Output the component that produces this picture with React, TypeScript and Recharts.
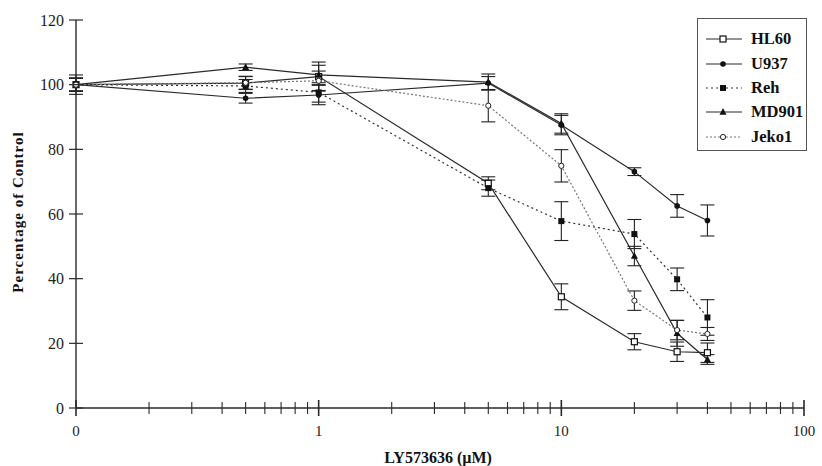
import {
  LineChart,
  Line,
  XAxis,
  YAxis,
  ErrorBar,
  Legend
} from 'recharts';

const doses = [0, 0.5, 1, 5, 10, 20, 30, 40];

const hl60 = [100, 100.5, 102.5, 69.5, 34.4, 20.5, 17.4, 17.1];
const hl60Err = [3, 2, 4.5, 2, 4, 2.5, 3, 3];
const u937 = [100, 95.8, 96.8, 100.5, 87.5, 73.1, 62.5, 58];
const u937Err = [2, 1.5, 3, 2, 3, 1.2, 3.5, 4.8];
const reh = [100, 99.6, 97.6, 68, 57.8, 53.8, 39.8, 28];
const rehErr = [2, 2, 3, 2.5, 6, 4.5, 3.5, 5.5];
const md901 = [100, 105.4, 103, 100.8, 88, 47, 23.1, 15];
const md901Err = [2, 1, 3, 2.5, 3, 3, 4, 1.5];
const jeko1 = [100, 100.6, 101.2, 93.5, 74.9, 33.2, 24.1, 22.9];
const jeko1Err = [2, 2, 3, 5, 5, 3, 3, 2];

const majorTicks = [0.1, 1, 10, 100];
const majorLabels = ['0', '1', '10', '100'];
const minorTicks = [
  0.2, 0.3, 0.4, 0.5, 0.6, 0.7, 0.8, 0.9,
  2, 3, 4, 5, 6, 7, 8, 9,
  20, 30, 40, 50, 60, 70, 80, 90
];
const yTicks = [0, 20, 40, 60, 80, 100, 120];

const rows = doses.map((d, i) => ({
  x: d === 0 ? 0.1 : d,
  hl60: hl60[i],
  hl60Err: hl60Err[i],
  u937: u937[i],
  u937Err: u937Err[i],
  reh: reh[i],
  rehErr: rehErr[i],
  md901: md901[i],
  md901Err: md901Err[i],
  jeko1: jeko1[i],
  jeko1Err: jeko1Err[i]
}));

const FONT = '"Liberation Serif", "Times New Roman", serif';
const INK = '#2a2a2a';

type MarkerKind = 'openSquare' | 'circle' | 'square' | 'triangle' | 'openCircle';

const Marker = ({ kind, cx, cy }: { kind: MarkerKind; cx: number; cy: number }) => {
  switch (kind) {
    case 'openSquare':
      return <rect x={cx - 3} y={cy - 3} width={6} height={6} fill="#fff" stroke="#111" strokeWidth={1.2} />;
    case 'circle':
      return <circle cx={cx} cy={cy} r={2.8} fill="#111" />;
    case 'square':
      return <rect x={cx - 3} y={cy - 3} width={6} height={6} fill="#111" />;
    case 'triangle':
      return <polygon points={`${cx},${cy - 4} ${cx - 3.5},${cy + 2.8} ${cx + 3.5},${cy + 2.8}`} fill="#111" />;
    default:
      return <circle cx={cx} cy={cy} r={2.6} fill="#fff" stroke="#222" strokeWidth={1} />;
  }
};

const series = [
  { key: 'hl60', name: 'HL60', marker: 'openSquare' as MarkerKind, dash: undefined, color: INK },
  { key: 'u937', name: 'U937', marker: 'circle' as MarkerKind, dash: undefined, color: INK },
  { key: 'reh', name: 'Reh', marker: 'square' as MarkerKind, dash: '2 3', color: '#333' },
  { key: 'md901', name: 'MD901', marker: 'triangle' as MarkerKind, dash: undefined, color: INK },
  { key: 'jeko1', name: 'Jeko1', marker: 'openCircle' as MarkerKind, dash: '2 2', color: '#777' }
];

const XTick = (props: any) => {
  const { x, y, payload } = props;
  const idx = majorTicks.indexOf(payload.value);
  const major = idx >= 0;
  return (
    <g>
      <line x1={x} x2={x} y1={y - (major ? 8 : 6)} y2={y + (major ? 8 : 6)} stroke={INK} strokeWidth={major ? 1.6 : 1.1} />
      {major && (
        <text x={x} y={y + 28} textAnchor="middle" fontFamily={FONT} fontSize={15} fill="#222">
          {majorLabels[idx]}
        </text>
      )}
    </g>
  );
};

const YTick = (props: any) => {
  const { x, y, payload } = props;
  return (
    <g>
      <line x1={x - 7} x2={x + 7} y1={y} y2={y} stroke={INK} strokeWidth={1.2} />
      <text x={x - 12} y={y + 5.5} textAnchor="end" fontFamily={FONT} fontSize={16} fill="#222">
        {payload.value}
      </text>
    </g>
  );
};

const LegendBox = () => (
  <div
    style={{
      width: 110,
      height: 133,
      border: '1px solid #555',
      boxSizing: 'border-box',
      background: '#fff',
      paddingTop: 8
    }}
  >
    {series.map((s) => (
      <div key={s.key} style={{ display: 'flex', alignItems: 'center', height: 24.4 }}>
        <svg width={45} height={14} style={{ marginLeft: 8 }}>
          <line x1={0} x2={36} y1={7} y2={7} stroke={s.color} strokeWidth={1.2} strokeDasharray={s.dash} />
          <Marker kind={s.marker} cx={17} cy={7} />
        </svg>
        <span style={{ fontFamily: FONT, fontWeight: 'bold', fontSize: 16.5, color: '#111' }}>{s.name}</span>
      </div>
    ))}
  </div>
);

export default function App() {
  return (
    <div style={{ position: 'absolute', left: 0, top: 0, width: 822, height: 466, background: '#fff' }}>
      <LineChart width={822} height={466} data={rows} margin={{ top: 20, right: 18, left: 16, bottom: 0 }}>
        <XAxis
          dataKey="x"
          type="number"
          scale="log"
          domain={[0.1, 100]}
          ticks={[...majorTicks, ...minorTicks].sort((a, b) => a - b)}
          interval={0}
          tick={<XTick />}
          tickLine={false}
          tickSize={0}
          tickMargin={0}
          height={58}
          axisLine={{ stroke: INK, strokeWidth: 1.4 }}
          label={{
            content: () => (
              <text x={438} y={463} textAnchor="middle" fontFamily={FONT} fontWeight="bold" fontSize={16} fill="#111">
                LY573636 (µM)
              </text>
            )
          }}
        />
        <YAxis
          type="number"
          domain={[0, 120]}
          ticks={yTicks}
          interval={0}
          width={60}
          tickSize={0}
          tickMargin={0}
          tick={<YTick />}
          tickLine={false}
          axisLine={{ stroke: INK, strokeWidth: 1.4 }}
          label={{
            content: () => (
              <text
                x={18}
                y={212}
                transform="rotate(-90, 18, 212)"
                textAnchor="middle"
                dominantBaseline="central"
                fontFamily={FONT}
                fontWeight="bold"
                fontSize={15}
                letterSpacing={1}
                fill="#111"
              >
                Percentage of Control
              </text>
            )
          }}
        />
        <Legend
          layout="horizontal"
          verticalAlign="middle"
          align="center"
          content={<LegendBox />}
          wrapperStyle={{ top: 18, left: 697, width: 110, height: 133 }}
        />
        {series.map((s) => (
          <Line
            key={s.key}
            dataKey={s.key}
            name={s.name}
            stroke={s.color}
            strokeWidth={1.2}
            strokeDasharray={s.dash}
            isAnimationActive={false}
            dot={(p: any) => <Marker key={`${s.key}-${p.index}`} kind={s.marker} cx={p.cx} cy={p.cy} />}
            activeDot={false}
          >
            <ErrorBar dataKey={`${s.key}Err`} direction="y" width={7} stroke="#222" strokeWidth={1.1} />
          </Line>
        ))}
      </LineChart>
    </div>
  );
}
